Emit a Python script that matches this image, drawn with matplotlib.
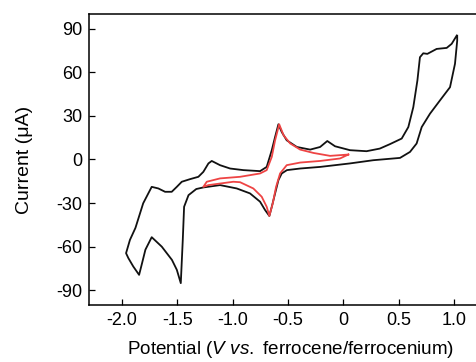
import matplotlib
matplotlib.use("Agg")
import matplotlib.pyplot as plt

plt.rcParams['font.family'] = ['Liberation Sans', 'DejaVu Sans']
plt.rcParams['mathtext.fontset'] = 'custom'
plt.rcParams['mathtext.rm'] = 'Liberation Sans'
plt.rcParams['mathtext.it'] = 'Liberation Sans:italic'

# Black CV loop (potential in V, current in uA)
black_x = [1.03, 1.03, 1.01, 0.965, 0.874, 0.784, 0.709, 0.663, 0.603, 0.513, 0.27, 0.06,
           -0.21, -0.39, -0.51, -0.557, -0.587, -0.617, -0.647, -0.669, -0.708, -0.753, -0.844,
           -0.964, -1.115, -1.266, -1.33, -1.40, -1.44, -1.452, -1.47, -1.506, -1.55, -1.642,
           -1.733, -1.79, -1.82, -1.847, -1.90, -1.944, -1.965,
           -1.93, -1.88, -1.81, -1.733, -1.673, -1.612, -1.552, -1.506, -1.461, -1.386, -1.311,
           -1.266, -1.22, -1.19, -1.115, -1.024, -0.904, -0.753, -0.693, -0.647, -0.617, -0.587,
           -0.557, -0.512, -0.42, -0.30, -0.21, -0.145, -0.075, 0.06, 0.21, 0.33, 0.42, 0.528,
           0.588, 0.633, 0.67, 0.693, 0.723, 0.76, 0.844, 0.935, 0.98, 1.025]
black_y = [85.1, 81.7, 65.8, 49.7, 40.6, 31.5, 22.3, 11.0, 5.2, 1.1, -0.5, -2.7,
           -5.1, -6.2, -7.3, -9.6, -14.2, -23.3, -32.5, -38.8, -34.7, -29.0, -23.3,
           -19.9, -17.6, -19.2, -20.3, -24.5, -32.5, -55.3, -85.0, -75.8, -69.0, -59.9,
           -53.4, -62.0, -71.2, -79.3, -73.5, -67.8, -64.4,
           -55.3, -47.0, -30.1, -18.8, -19.9, -22.2, -22.2, -18.8, -15.3, -13.5, -11.9,
           -8.5, -2.7, -1.0, -3.9, -6.2, -7.3, -8.0, -5.1, 6.4, 15.5, 24.2,
           18.9, 13.2, 8.6, 6.8, 8.6, 12.7, 9.1, 6.4, 5.7, 7.5, 10.5, 14.4,
           22.3, 36.0, 54.3, 70.3, 73.0, 72.6, 76.0, 76.7, 79.5, 85.1]

# Red CV loop (ferrocene reference)
red_x = [0.045, -0.12, -0.27, -0.39, -0.48, -0.54, -0.58, -0.617, -0.647, -0.693, -0.753,
         -0.934, -1.115, -1.235, -1.266, -1.22, -0.995, -0.934, -0.814, -0.738, -0.693,
         -0.669, -0.638, -0.608, -0.572, -0.512, -0.39, -0.21, -0.03, 0.045]
red_y = [3.4, 2.5, 4.5, 6.8, 11.0, 16.6, 24.2, 13.2, 1.8, -7.3, -9.6,
         -11.9, -13.0, -15.3, -18.8, -17.6, -15.3, -15.6, -19.9, -25.6, -32.5,
         -38.8, -30.1, -18.8, -9.6, -3.9, -2.1, -1.0, 0.7, 3.4]

xticks = [-2.0, -1.5, -1.0, -0.5, 0.0, 0.5, 1.0]
xticklabels = ['-2.0', '-1.5', '-1.0', '-0.5', '0', '0.5', '1.0']
yticks = [-90, -60, -30, 0, 30, 60, 90]
yticklabels = ['-90', '-60', '-30', '0', '30', '60', '90']

fig = plt.figure(figsize=(4.76, 3.62), dpi=100)
ax = fig.add_axes([0.187, 0.1575, 0.813, 0.8038])
ax.plot(black_x, black_y, color='#111111', lw=1.3, solid_joinstyle='round')
ax.plot(red_x, red_y, color='#ee4444', lw=1.3, solid_joinstyle='round')

ax.set_xlim(-2.3, 1.2)
ax.set_ylim(-100, 100)
ax.set_xticks(xticks)
ax.set_xticklabels(xticklabels)
ax.set_yticks(yticks)
ax.set_yticklabels(yticklabels)
ax.tick_params(direction='in', length=4, width=0.9, labelsize=13)
ax.tick_params(axis='x', pad=5)
ax.tick_params(axis='y', pad=5)
ax.spines['right'].set_visible(False)
for s in ['left', 'bottom', 'top']:
    ax.spines[s].set_linewidth(1.1)

ax.set_ylabel('Current (\u03bcA)', fontsize=14, va='center')
ax.yaxis.set_label_coords(-0.166, 0.5)
ax.set_xlabel('Potential ($\\mathit{V\\ vs.}$ ferrocene/ferrocenium)', fontsize=13.6, va='top')
ax.xaxis.set_label_coords(0.522, -0.118)

fig.savefig('out.png', dpi=100)
